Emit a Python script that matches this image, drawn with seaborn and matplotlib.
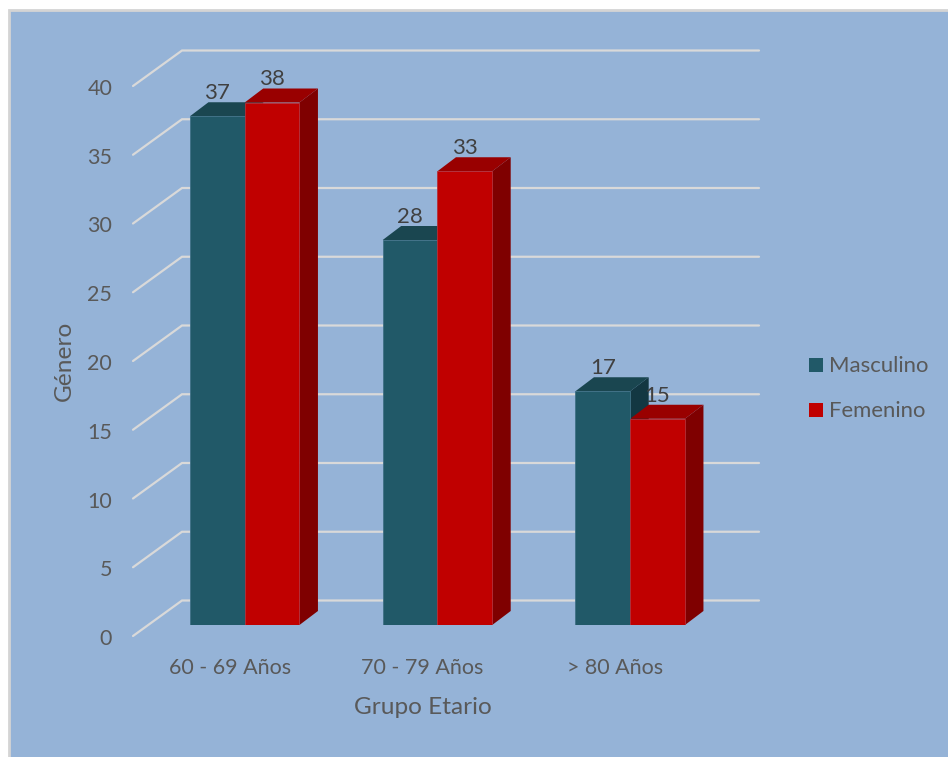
import matplotlib
matplotlib.use("Agg")
import matplotlib.pyplot as plt
from matplotlib.patches import Rectangle
from matplotlib.transforms import ScaledTranslation
import pandas as pd
import seaborn as sns

groups = ["60 - 69 Años", "70 - 79 Años", "> 80 Años"]
masculino = [37, 28, 17]
femenino = [38, 33, 15]
series_names = ["Masculino", "Femenino"]
y_ticks = [0, 5, 10, 15, 20, 25, 30, 35, 40]

W, H, DPI = 948, 757, 100
BG = "#95B3D7"
FRONT = {"Masculino": "#215968", "Femenino": "#C00000"}
TOP = {"Masculino": "#1A4650", "Femenino": "#990000"}
SIDE = {"Masculino": "#133742", "Femenino": "#7F0000"}
EDGE = {"Masculino": "#3F7085", "Femenino": "#B5303A"}
GRID = "#D9D9D9"
TXT = "#595959"

sns.set_theme(style="white")
plt.rcParams["font.family"] = ["Lato", "DejaVu Sans"]

fig = plt.figure(figsize=(W / DPI, H / DPI), dpi=DPI, facecolor="white")
fig.add_artist(Rectangle((9 / W, -0.02), 1.02, 1.02 - 10 / H, transform=fig.transFigure,
                         facecolor=BG, edgecolor="#D4D4D4", linewidth=2.0, zorder=-5))

# axes: x=0 -> 245px with 192.75px per category; y=0 -> 625px, y=40 -> 75px
L, R = 133, 759
PX_X = 192.75
PX_Y = 13.75
ax = fig.add_axes([L / W, (H - 625) / H, (R - L) / W, 550 / H])
ax.patch.set_alpha(0)

df = pd.DataFrame({
    "grupo": groups * 2,
    "genero": [series_names[0]] * 3 + [series_names[1]] * 3,
    "valor": masculino + femenino,
})
sns.barplot(data=df, x="grupo", y="valor", hue="genero", order=groups, hue_order=series_names,
            palette=FRONT, saturation=1, width=109.5 / PX_X, gap=0, ax=ax, zorder=5, legend=False)
ax.set_xlim((L - 244.7) / PX_X, (R - 244.7) / PX_X)
ax.set_ylim(0, 40)

# pseudo-3D offsets in data units
dx = 18.5 / PX_X
dy = 14 / PX_Y
wall_dx = 49 / PX_X
wall_dy = 24.5 / PX_Y
floor_dy = -11 / PX_Y
x0, x1 = ax.get_xlim()

for v in y_ticks:
    ax.plot([x0, x0 + wall_dx, x1], [v + floor_dy, v + wall_dy, v + wall_dy], color=GRID, lw=1.6,
            clip_on=False, zorder=1, solid_joinstyle="miter")

for k, (name, cont) in enumerate(zip(series_names, ax.containers)):
    for bar in cont:
        xa, w, h = bar.get_x(), bar.get_width(), bar.get_height()
        xb = xa + w
        ax.fill([xb, xb + dx, xb + dx, xb], [0, dy, h + dy, h], color=SIDE[name], lw=0,
                clip_on=False, zorder=2 + k * 0.2)
        ax.fill([xa, xa + dx, xb + dx, xb], [h, h + dy, h + dy, h], color=TOP[name], lw=0,
                clip_on=False, zorder=2.1 + k * 0.2)
        bar.set_edgecolor(EDGE[name])
        bar.set_linewidth(0.6)
    labels = ax.bar_label(cont, padding=9.5, fontsize=16, color="#404040", zorder=8)
    for t in labels:
        t.set_clip_on(False)

sns.despine(ax=ax, left=True, bottom=True)
ax.set_yticks(y_ticks)
ax.set_xlabel("")
ax.set_ylabel("")
ax.tick_params(axis="both", length=0, labelsize=15.5, labelcolor=TXT)
ax.tick_params(axis="y", pad=15)
ax.tick_params(axis="x", pad=0)

off_y = ScaledTranslation(0, -12 / DPI, fig.dpi_scale_trans)
off_x = ScaledTranslation(-15 / DPI, -33 / DPI, fig.dpi_scale_trans)
for t in ax.get_yticklabels():
    t.set_transform(t.get_transform() + off_y)
for t in ax.get_xticklabels():
    t.set_transform(t.get_transform() + off_x)

fig.text(423 / W, 1 - 707 / H, "Grupo Etario", ha="center", va="center", fontsize=17.6, color=TXT)
fig.text(64 / W, 1 - 361 / H, "Género", ha="center", va="center", rotation=90, fontsize=17.6, color=TXT)

for name, yp in zip(series_names, [365, 410]):
    fig.add_artist(Rectangle((809 / W, 1 - (yp + 7) / H), 14 / W, 14 / H, transform=fig.transFigure,
                             facecolor=FRONT[name], edgecolor="none"))
    fig.text(829 / W, 1 - (yp + 1) / H, name, ha="left", va="center", fontsize=15.9, color=TXT)

fig.savefig("out.png", dpi=DPI, facecolor="white")
